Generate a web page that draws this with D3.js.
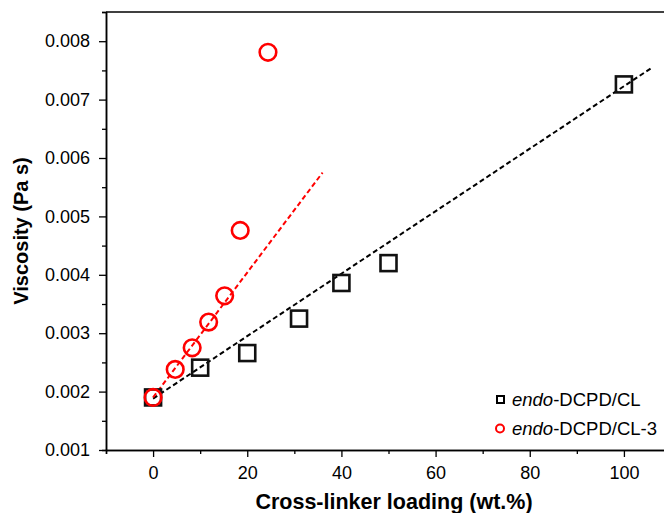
<!DOCTYPE html>
<html>
<head>
<meta charset="utf-8">
<script src="https://cdn.jsdelivr.net/npm/d3@7/dist/d3.min.js"></script>
<style>
  html, body { margin: 0; padding: 0; background: #fff; }
  svg { display: block; font-family: "Liberation Sans", Arial, sans-serif; overflow: hidden; }
</style>
</head>
<body>
<svg id="chart" width="664" height="513"></svg>
<script>
//Data
const loadingCL = [0, 10, 20, 31, 40, 50, 100];
const viscosityCL = [0.0019, 0.00241, 0.00266, 0.00325, 0.00386, 0.0042, 0.00726];

const loadingCL3 = [0, 4.7, 8.3, 11.8, 15.2, 18.5, 24.4];
const viscosityCL3 = [0.0019, 0.00238, 0.00275, 0.00319, 0.00364, 0.00476, 0.00781];

//Linear fit end points [x, y]
const fitCL = [[0, 0.00188], [106, 0.00755]];
const fitCL3 = [[0, 0.0019], [36, 0.00575]];

const xTicks = [0, 20, 40, 60, 80, 100];
const xMinor = [-10, 10, 30, 50, 70, 90, 110];
const yTicks = [0.001, 0.002, 0.003, 0.004, 0.005, 0.006, 0.007, 0.008];
const yMinor = [0.0015, 0.0025, 0.0035, 0.0045, 0.0055, 0.0065, 0.0075, 0.0085];

const legendLabels = ["DCPD/CL", "DCPD/CL-3"];

//Layout (px)
let plotLeft = 106, plotTop = 12, plotRight = 671, plotBottom = 450;

const svg = d3.select("#chart");

let xScale = d3.scaleLinear().domain([-10, 110]).range([plotLeft, plotRight]);
let yScale = d3.scaleLinear().domain([0.001, 0.0085]).range([plotBottom, plotTop]);

//Frame line on top
svg.append("line")
  .attr("x1", plotLeft).attr("x2", plotRight)
  .attr("y1", plotTop).attr("y2", plotTop)
  .attr("stroke", "#000").attr("stroke-width", 1.5);

//Axes
function styleAxis(g) {
  g.selectAll("path.domain").attr("stroke-width", 1.5);
  g.selectAll(".tick line").attr("stroke-width", 1.3);
  g.selectAll("text").attr("font-size", 18).attr("fill", "#000")
    .attr("font-family", "'Liberation Sans', Arial, sans-serif");
}

svg.append("g")
  .attr("transform", `translate(0,${plotBottom})`)
  .call(d3.axisBottom(xScale).tickValues(xMinor).tickSize(4).tickFormat(""))
  .call(styleAxis);
svg.append("g")
  .attr("transform", `translate(0,${plotBottom})`)
  .call(d3.axisBottom(xScale).tickValues(xTicks).tickSize(7).tickSizeOuter(0).tickPadding(9).tickFormat(d3.format("d")))
  .call(styleAxis);

svg.append("g")
  .attr("transform", `translate(${plotLeft},0)`)
  .call(d3.axisLeft(yScale).tickValues(yMinor).tickSize(4).tickFormat(""))
  .call(styleAxis);
svg.append("g")
  .attr("transform", `translate(${plotLeft},0)`)
  .call(d3.axisLeft(yScale).tickValues(yTicks).tickSize(7).tickSizeOuter(0).tickPadding(9).tickFormat(d3.format(".3f")))
  .call(styleAxis);

//Axis titles
svg.append("text")
  .attr("x", 394).attr("y", 509)
  .attr("text-anchor", "middle")
  .attr("font-size", 21.5).attr("font-weight", "bold")
  .text("Cross-linker loading (wt.%)");

svg.append("text")
  .attr("transform", "translate(28,231) rotate(-90)")
  .attr("text-anchor", "middle")
  .attr("font-size", 20).attr("font-weight", "bold")
  .text("Viscosity (Pa s)");

//Fit lines
const line = d3.line().x(d => xScale(d[0])).y(d => yScale(d[1]));
svg.append("path").datum(fitCL)
  .attr("d", line).attr("fill", "none")
  .attr("stroke", "#000").attr("stroke-width", 2).attr("stroke-dasharray", "5,3");
svg.append("path").datum(fitCL3)
  .attr("d", line).attr("fill", "none")
  .attr("stroke", "#f00").attr("stroke-width", 2).attr("stroke-dasharray", "5,3");

//Squares
let sq = 16;
svg.append("g").selectAll("rect")
  .data(d3.zip(loadingCL, viscosityCL))
  .enter().append("rect")
  .attr("x", d => xScale(d[0]) - sq / 2)
  .attr("y", d => yScale(d[1]) - sq / 2)
  .attr("width", sq).attr("height", sq)
  .attr("fill", "none").attr("stroke", "#111").attr("stroke-width", 2.6);

//Circles
svg.append("g").selectAll("circle")
  .data(d3.zip(loadingCL3, viscosityCL3))
  .enter().append("circle")
  .attr("cx", d => xScale(d[0]))
  .attr("cy", d => yScale(d[1]))
  .attr("r", 8.3)
  .attr("fill", "none").attr("stroke", "#f00").attr("stroke-width", 2.6);

//Legend
let legend = svg.append("g");
legend.append("rect")
  .attr("x", 497).attr("y", 396).attr("width", 7).attr("height", 7)
  .attr("fill", "none").attr("stroke", "#000").attr("stroke-width", 2);
legend.append("circle")
  .attr("cx", 500).attr("cy", 428.5).attr("r", 4)
  .attr("fill", "none").attr("stroke", "#f00").attr("stroke-width", 2);

legendLabels.forEach((label, i) => {
  let t = legend.append("text")
    .attr("x", 512).attr("y", 406 + i * 29)
    .attr("font-size", 18.5);
  t.append("tspan").attr("font-style", "italic").text("endo");
  t.append("tspan").text("-" + label);
});
</script>
</body>
</html>
